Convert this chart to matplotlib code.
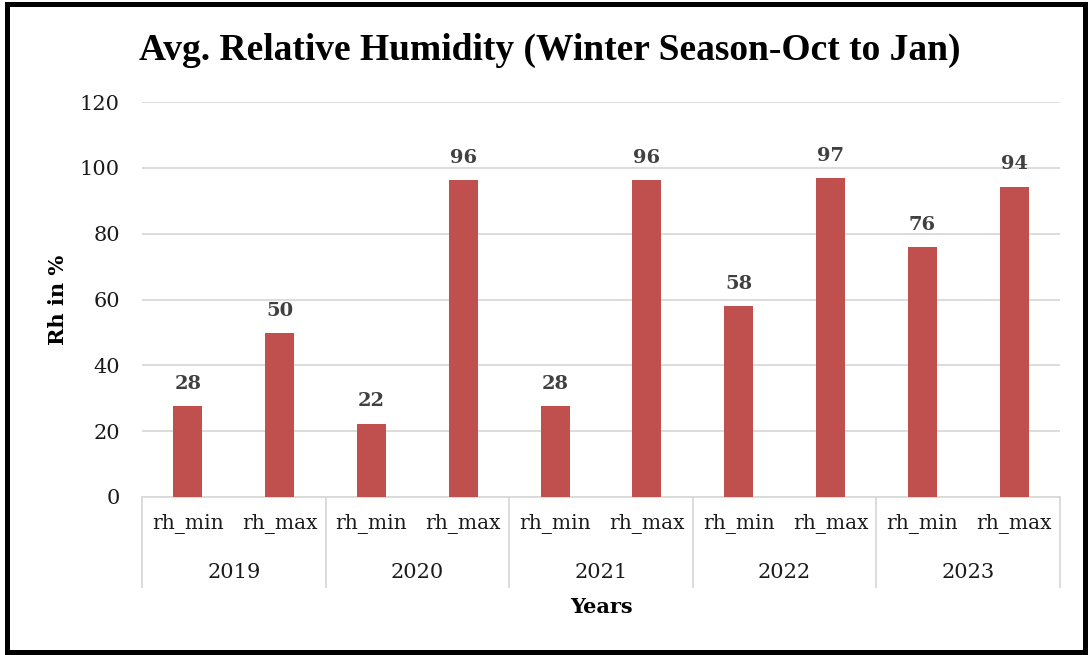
import matplotlib.pyplot as plt
import matplotlib.transforms as mtransforms
from matplotlib.patches import Rectangle

years = ['2019', '2020', '2021', '2022', '2023']
kinds = ['rh_min', 'rh_max']
rh_min = [27.6, 22.3, 27.6, 57.9, 75.9]
rh_max = [49.7, 96.3, 96.3, 96.9, 94.3]

values = []
labels = []
for a, b in zip(rh_min, rh_max):
    values += [a, b]
    labels += kinds
x = list(range(len(values)))

serif = 'DejaVu Serif'
fig = plt.figure(figsize=(10.89, 6.55), dpi=100)
ax = fig.add_axes([142/1089, 1-497/655, 918/1089, 395/655])

bars = ax.bar(x, values, width=0.315, color='#C0504D', zorder=3)
for xi, v in zip(x, values):
    ax.text(xi, v + 4, f'{v:.0f}', ha='center', va='bottom', fontsize=14,
            fontweight='bold', color='#404040', family=serif)

ax.set_xlim(-0.5, len(values) - 0.5)
ax.set_ylim(0, 120)
ax.set_yticks(range(0, 121, 20))
ax.yaxis.grid(True, color='#d9d9d9', linewidth=1.3, zorder=0)
for s in ['top', 'right', 'left']:
    ax.spines[s].set_visible(False)
ax.spines['bottom'].set_color('#d9d9d9')
ax.spines['bottom'].set_linewidth(1.3)
ax.tick_params(axis='y', length=0, pad=16, labelsize=15)
ax.tick_params(axis='x', length=0, pad=12, labelsize=14.5)
ax.set_xticks(x)
ax.set_xticklabels(labels, family=serif, color='#1a1a1a')
for t in ax.get_yticklabels():
    t.set_family(serif)
    t.set_color('#1a1a1a')

trans = mtransforms.blended_transform_factory(ax.transData, ax.transAxes)
for i in range(len(years) + 1):
    xb = 2 * i - 0.5
    ax.plot([xb, xb], [0, -90/395], transform=trans, color='#d9d9d9',
            linewidth=1.3, clip_on=False)
for i, yr in enumerate(years):
    ax.text(2 * i + 0.5, -75/395, yr, transform=trans, ha='center', va='center',
            fontsize=15, family=serif, color='#1a1a1a')

fig.text(601/1089, 1-607/655, 'Years', ha='center', va='center', fontsize=15,
         fontweight='bold', family=serif)
fig.text(58/1089, 1-300/655, 'Rh in %', ha='center', va='center', fontsize=15,
         fontweight='bold', family=serif, rotation=90)
fig.text(550/1089, 1-50/655, 'Avg. Relative Humidity (Winter Season-Oct to Jan)',
         ha='center', va='center', fontsize=27, fontweight='bold',
         family='Liberation Serif')

fig.patches.append(Rectangle((7/1089, 3/655), 1078/1089, 648/655, fill=False,
                             edgecolor='black', linewidth=3.6,
                             transform=fig.transFigure, figure=fig))

fig.savefig('out.png', dpi=100)
